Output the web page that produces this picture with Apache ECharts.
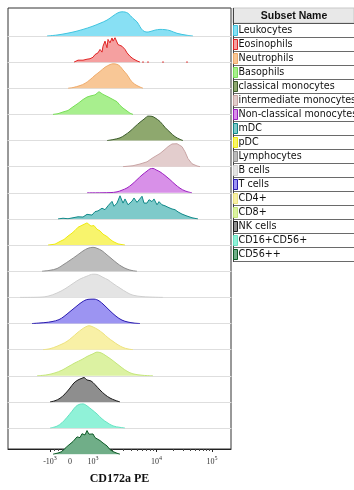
<!DOCTYPE html>
<html><head><meta charset="utf-8">
<script src="https://cdn.jsdelivr.net/npm/echarts@6/dist/echarts.min.js"></script>
<style>html,body{margin:0;padding:0;background:#fff}#c{width:354px;height:490px}</style>
</head><body><div id="c"></div>
<script>
// ---- data ----
const subsets = ['Leukocytes','Eosinophils','Neutrophils','Basophils','classical monocytes','intermediate monocytes','Non-classical monocytes','mDC','pDC','Lymphocytes','B cells','T cells','CD4+','CD8+','NK cells','CD16+CD56+','CD56++'];
// histogram points: [display channel, % of mode]
const leukocytes = [[39,0],[49,4],[59,11],[67,18],[75,27],[84,39],[92,52],[99,65],[105,82],[110,95],[114,99],[117,98],[120,93],[125,72],[129,58],[132,38],[135,22],[139,16],[142,18],[147,24],[152,27],[157,26],[162,22],[169,11],[179,3],[185,0]];
const eosinophils = [[66,0],[68,4],[70,8],[72,2],[75,8],[77,4],[79,12],[82,14],[85,20],[87,31],[89,25],[90,38],[92,52],[94,41],[95,65],[97,86],[99,59],[100,93],[102,79],[104,99],[105,86],[107,100],[109,93],[110,72],[112,79],[114,65],[115,68],[117,52],[119,38],[120,41],[122,24],[124,16],[125,14],[129,5],[132,0],[133,'-'],[134,0],[135,5],[136,0],[137,'-'],[139,0],[140,5],[141,0],[142,'-'],[154,0],[155,5],[156,0],[157,'-'],[178,0],[179,5],[180,0]];
const neutrophils = [[60,0],[65,3],[72,11],[77,20],[82,35],[87,53],[92,69],[97,86],[102,97],[105,100],[109,98],[112,90],[115,75],[119,56],[122,37],[125,22],[129,11],[132,5],[135,0]];
const basophils = [[45,0],[50,3],[55,10],[60,16],[65,31],[70,45],[75,61],[79,71],[82,75],[84,74],[87,80],[89,82],[91,93],[93,100],[95,82],[97,79],[100,72],[105,61],[109,52],[112,37],[115,26],[119,14],[122,5],[125,0]];
const classicalMono = [[99,0],[105,4],[112,11],[117,23],[122,38],[127,57],[132,75],[137,91],[140,100],[144,99],[147,93],[152,78],[157,54],[162,34],[167,16],[172,5],[175,0]];
const intermediateMono = [[115,0],[125,4],[132,11],[139,20],[145,37],[152,54],[157,71],[160,82],[164,93],[166,98],[169,94],[171,99],[174,82],[177,61],[180,33],[184,12],[189,3],[192,0]];
const nonClassicalMono = [[79,0],[102,1],[109,4],[114,11],[119,20],[124,35],[129,54],[134,73],[139,89],[142,98],[145,100],[148,94],[152,86],[157,71],[162,54],[167,35],[172,19],[177,8],[184,0]];
const mDC = [[50,0],[55,3],[60,1],[65,5],[70,9],[75,8],[79,19],[84,16],[87,30],[90,33],[94,44],[97,38],[100,54],[104,72],[106,52],[109,65],[112,95],[115,65],[117,82],[120,58],[124,73],[126,86],[129,68],[131,78],[134,93],[136,65],[139,65],[141,79],[144,71],[146,82],[149,58],[151,71],[154,58],[157,54],[160,48],[164,41],[167,38],[170,29],[174,20],[179,12],[184,5],[190,0]];
const pDC = [[40,0],[47,4],[52,15],[56,23],[60,37],[64,49],[67,60],[70,73],[72,65],[75,83],[77,78],[79,91],[81,98],[83,78],[86,80],[89,65],[92,58],[95,45],[99,35],[102,24],[105,15],[110,5],[117,0]];
const lymphocytes = [[34,0],[42,4],[49,11],[55,26],[62,45],[69,65],[75,83],[80,94],[85,98],[89,94],[94,84],[99,67],[104,50],[109,33],[114,19],[119,9],[124,3],[129,0]];
const bCells = [[12,0],[32,1],[40,5],[49,18],[57,35],[65,57],[72,75],[79,87],[85,95],[89,94],[92,89],[95,82],[100,72],[105,57],[112,38],[119,20],[125,9],[135,3],[155,0]];
const tCells = [[24,0],[37,4],[44,8],[51,16],[56,29],[62,49],[68,69],[74,88],[80,99],[86,100],[91,93],[96,76],[102,52],[108,30],[114,14],[120,6],[126,2],[132,0]];
const cd4 = [[35,0],[42,4],[49,14],[54,23],[59,34],[64,50],[69,68],[74,84],[78,94],[81,98],[85,93],[90,82],[95,67],[100,49],[105,34],[110,20],[115,9],[120,3],[125,0]];
const cd8 = [[29,0],[39,4],[47,12],[54,23],[60,37],[67,53],[74,67],[79,79],[85,90],[89,97],[93,94],[98,82],[104,65],[109,49],[114,33],[119,19],[125,8],[135,2],[145,0]];
const nkCells = [[42,0],[47,5],[52,15],[57,33],[62,57],[66,78],[70,90],[74,97],[76,100],[79,90],[83,86],[87,71],[92,49],[97,30],[102,16],[107,7],[112,0]];
const cd16cd56 = [[42,0],[49,8],[54,22],[59,44],[64,69],[68,89],[72,98],[75,99],[79,91],[84,75],[89,58],[94,38],[99,23],[105,9],[112,3],[117,0]];
const cd56bright = [[45,0],[50,5],[54,11],[57,24],[60,35],[62,41],[65,52],[67,56],[69,71],[72,68],[74,84],[77,79],[79,97],[81,82],[83,78],[85,83],[87,68],[89,62],[92,56],[95,46],[99,34],[102,19],[105,11],[109,4],[112,0]];
const histograms = [leukocytes,eosinophils,neutrophils,basophils,classicalMono,intermediateMono,nonClassicalMono,mDC,pDC,lymphocytes,bCells,tCells,cd4,cd8,nkCells,cd16cd56,cd56bright];

const tickValues = [-1000, 0, 1000, 10000, 100000];
const tickLabels = ['-10³', '0', '10³', '10⁴', '10⁵'];
const minorTickValues = [-800,-600,-400,-200,200,400,600,800,2000,3000,4000,5000,6000,7000,8000,9000,20000,30000,40000,50000,60000,70000,80000,90000];
const axisTitle = 'CD172a PE';
const legendTitle = 'Subset Name';

// ---- styles ----
const fillColors = ['#88e0f4','#f5a0a0','#f8c796','#a8ef8e','#8ea86e','#e3cdcd','#d890e8','#7ecaca','#f8f46c','#bcbcbc','#e4e4e4','#9c94f2','#f8f0a6','#dcf2a2','#8e8e8e','#90f2d8','#70ae88'];
const lineColors = ['#40c4df','#e02424','#eeaa6a','#78de58','#3c5c2c','#c8a4a4','#9b20c0','#108888','#eeea10','#8c8c8c','#cfcfcf','#2a1cb0','#ece27e','#c4e67a','#1a1a1a','#66e2c2','#0c5a26'];
const noisy = [false,true,false,true,false,true,false,true,true,false,false,false,false,false,false,false,true];

// display scale (biexponential-like) : data value -> channel
function toChannel(v) {
  if (v >= 10000) return 148.5 + 55.5 * Math.log10(v / 10000);
  if (v >= 1000) return 85 + 63.5 * Math.log10(v / 1000);
  if (v >= 0) return 62 + 23 * v / 1000;
  return 62 + 20 * v / 1000;
}
const CH_MAX = 223;
const majorCh = tickValues.map(toChannel);
const minorCh = minorTickValues.map(toChannel);
const supMap = {'³':'3','⁴':'4','⁵':'5'};
function labelFor(ch) {
  let idx = -1;
  majorCh.forEach((c, i) => { if (Math.abs(c - ch) < 0.01) idx = i; });
  if (idx < 0) return '';
  const t = tickLabels[idx];
  const last = t[t.length - 1];
  if (supMap[last]) return '{n|' + t.slice(0, -1) + '}{s|' + supMap[last] + '}';
  return '{n|' + t + '}';
}

const n = subsets.length;
const ROW_TOP = 9.86, ROW_H = 26.14;
const grids = [], xAxes = [], yAxes = [], series = [];
subsets.forEach((name, i) => {
  grids.push({left: 8, right: 123, top: ROW_TOP + i * ROW_H, height: ROW_H});
  xAxes.push({type: 'value', gridIndex: i, min: 0, max: CH_MAX,
    axisLine: {show: i < n - 1, lineStyle: {color: '#dedede', width: 1}},
    axisTick: {show: false}, axisLabel: {show: false}, splitLine: {show: false}});
  yAxes.push({type: 'value', gridIndex: i, min: 0, max: 107, show: false, splitLine: {show: false}});
  series.push({type: 'line', name, xAxisIndex: i, yAxisIndex: i, data: histograms[i],
    showSymbol: false, symbol: 'none', smooth: noisy[i] ? false : 0.35, connectNulls: false,
    lineStyle: {color: lineColors[i], width: 1},
    itemStyle: {color: fillColors[i]},
    areaStyle: {color: fillColors[i], opacity: 1}, silent: true});
});
// frame grid with the shared bottom axis
grids.push({left: 8, right: 123, top: 8, bottom: 36, show: true, borderColor: '#333', borderWidth: 1, backgroundColor: 'transparent'});
xAxes.push({type: 'value', gridIndex: n, min: 0, max: CH_MAX, position: 'bottom',
  axisLine: {show: true, lineStyle: {color: '#222', width: 1}},
  axisTick: {show: true, customValues: majorCh, length: 3, lineStyle: {color: '#222'}},
  axisLabel: {show: true, customValues: majorCh, margin: 5, formatter: v => labelFor(v),
    rich: {n: {fontFamily: 'Liberation Serif', fontSize: 8, color: '#333', padding: [4, 0, 0, 0]},
           s: {fontFamily: 'Liberation Serif', fontSize: 6, color: '#333', padding: [0, 0, 4, 0]}}},
  splitLine: {show: false},
  name: axisTitle, nameLocation: 'middle', nameGap: 24,
  nameTextStyle: {fontFamily: 'Liberation Serif', fontWeight: 'bold', fontSize: 12, color: '#111'}});
xAxes.push({type: 'value', gridIndex: n, min: 0, max: CH_MAX, position: 'bottom',
  axisLine: {show: false},
  axisTick: {show: true, customValues: minorCh, length: 2, lineStyle: {color: '#444'}},
  axisLabel: {show: false}, splitLine: {show: false}});
yAxes.push({type: 'value', gridIndex: n, min: 0, max: 1, show: false, splitLine: {show: false}});

// legend table graphics
const LG_LEFT = 233, LG_TOP = 8, HEAD_H = 15, ROW_STEP = 14;
const graphics = [];
graphics.push({type: 'rect', shape: {x: LG_LEFT, y: LG_TOP, width: 354 - LG_LEFT, height: HEAD_H}, style: {fill: '#e8e8e8', stroke: '#c8c8c8', lineWidth: 1}, silent: true});
graphics.push({type: 'text', x: 294, y: LG_TOP + HEAD_H / 2 + 0.5, style: {text: legendTitle, fontFamily: 'Liberation Sans', fontWeight: 'bold', fontSize: 10.5, fill: '#111', align: 'center', verticalAlign: 'middle'}, silent: true});
for (let k = 0; k <= n; k++) {
  const y = Math.round(LG_TOP + HEAD_H + k * ROW_STEP) + 0.5;
  graphics.push({type: 'line', shape: {x1: LG_LEFT, y1: y, x2: 354, y2: y}, style: {stroke: k === 0 ? '#555' : '#6a6a6a', lineWidth: 1}, silent: true});
}
graphics.push({type: 'line', shape: {x1: LG_LEFT + 0.5, y1: LG_TOP, x2: LG_LEFT + 0.5, y2: LG_TOP + HEAD_H + n * ROW_STEP + 1}, style: {stroke: '#444', lineWidth: 1}, silent: true});

const option = {
  animation: false,
  backgroundColor: '#fff',
  grid: grids, xAxis: xAxes, yAxis: yAxes, series,
  legend: {
    orient: 'vertical', left: LG_LEFT, top: LG_TOP + HEAD_H + 2, padding: 0,
    itemWidth: 4, itemHeight: 10, itemGap: 3, icon: 'rect', selectedMode: false,
    textStyle: {fontFamily: 'DejaVu Sans', fontSize: 9.6, color: '#111', lineHeight: 10, padding: [0, 0, 0, -4]},
    data: subsets.map((s, i) => ({name: s, itemStyle: {color: fillColors[i], borderColor: lineColors[i], borderWidth: 1}}))
  },
  graphic: graphics
};
echarts.init(document.getElementById('c'), null, {renderer: 'canvas'}).setOption(option);
</script></body></html>
